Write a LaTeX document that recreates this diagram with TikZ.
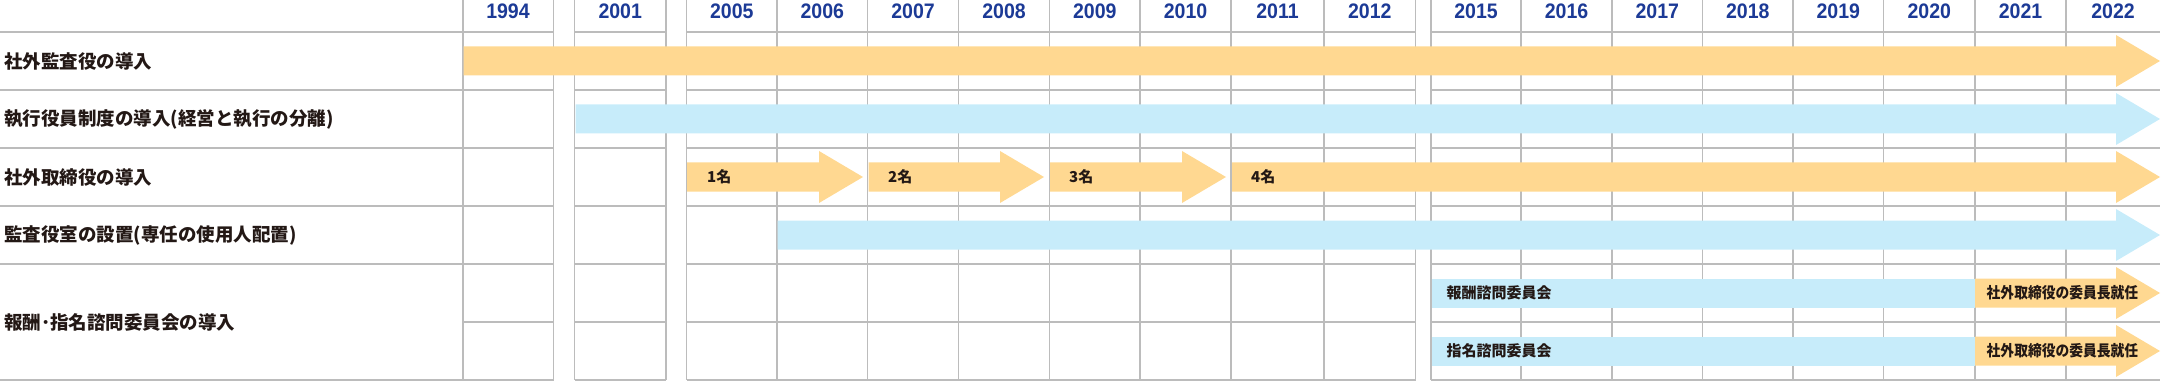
\documentclass[tikz,border=0pt]{standalone}
\usepackage{fontspec}
\newfontfamily\jpfont{Noto Sans CJK JP}
\newfontfamily\jpcond{Noto Sans CJK JP}[FakeStretch=0.9]
\newfontfamily\yearfont{Liberation Sans}[FakeStretch=0.93]
\definecolor{barorange}{RGB}{255,216,145}
\definecolor{barblue}{RGB}{199,236,250}
\definecolor{gridgray}{RGB}{188,188,188}
\definecolor{yearblue}{RGB}{28,58,150}
\definecolor{txt}{RGB}{35,24,21}
\newcommand{\tlarrow}[4]{%
  \fill[#1] (#2,#4-14.5) -- (#3-44,#4-14.5) -- (#3-44,#4-26) -- (#3,#4)
    -- (#3-44,#4+26) -- (#3-44,#4+14.5) -- (#2,#4+14.5) -- cycle;}
\tikzset{
  gridline/.style={draw=gridgray,line width=1.6pt},
  yearlabel/.style={font=\yearfont\bfseries\fontsize{21}{23}\selectfont,text=yearblue,inner sep=0pt,anchor=base},
  rowlabel/.style={font=\jpfont\bfseries\fontsize{18.5}{21}\selectfont,text=txt,inner sep=0pt,anchor=west},
  barlabel/.style={font=\jpfont\bfseries\fontsize{15}{17}\selectfont,text=txt,inner sep=0pt,anchor=west},
  condlabel/.style={font=\jpcond\bfseries\fontsize{15.3}{17}\selectfont,text=txt,inner sep=0pt,anchor=west},
}
\begin{document}
\begin{tikzpicture}[x=1pt,y=-1pt]
\useasboundingbox (0,0) rectangle (2164,385);
% horizontal grid lines
\foreach \y in {32,90,148,206,264,380}{
  \draw[gridline] (0,\y) -- (553.5,\y);
  \draw[gridline] (574.5,\y) -- (666,\y);
  \draw[gridline] (686.5,\y) -- (1415.5,\y);
  \draw[gridline] (1431,\y) -- (2160,\y);
}
\draw[gridline] (463,322) -- (553.5,322);
\draw[gridline] (574.5,322) -- (666,322);
\draw[gridline] (686.5,322) -- (1415.5,322);
\draw[gridline] (1431,322) -- (2160,322);
% vertical grid lines
\foreach \x in {463,553.5,574.5,666,686.5,777,867.5,958.5,1049.5,1140,1231,1324,1415.5,1431,1521,1612,1702.5,1793,1883.5,1975,2066}{
  \draw[gridline] (\x,0) -- (\x,380);
}
% years
\node[yearlabel] (y1994) at (508,18.5) {1994};
\node[yearlabel] (y2001) at (620.25,18.5) {2001};
\node[yearlabel] (y2005) at (731.75,18.5) {2005};
\node[yearlabel] (y2006) at (822.25,18.5) {2006};
\node[yearlabel] (y2007) at (913,18.5) {2007};
\node[yearlabel] (y2008) at (1004,18.5) {2008};
\node[yearlabel] (y2009) at (1094.75,18.5) {2009};
\node[yearlabel] (y2010) at (1185.5,18.5) {2010};
\node[yearlabel] (y2011) at (1277.5,18.5) {2011};
\node[yearlabel] (y2012) at (1369.75,18.5) {2012};
\node[yearlabel] (y2015) at (1476,18.5) {2015};
\node[yearlabel] (y2016) at (1566.5,18.5) {2016};
\node[yearlabel] (y2017) at (1657.25,18.5) {2017};
\node[yearlabel] (y2018) at (1747.75,18.5) {2018};
\node[yearlabel] (y2019) at (1838.25,18.5) {2019};
\node[yearlabel] (y2020) at (1929.25,18.5) {2020};
\node[yearlabel] (y2021) at (2020.5,18.5) {2021};
\node[yearlabel] (y2022) at (2113,18.5) {2022};
% row labels
\node[rowlabel] (r1) at (4,61) {社外監査役の導入};
\node[rowlabel] (r2) at (4,119) {執行役員制度の導入(経営と執行の分離)};
\node[rowlabel] (r3) at (4,177) {社外取締役の導入};
\node[rowlabel] (r4) at (4,235) {監査役室の設置(専任の使用人配置)};
\node[rowlabel] (r5) at (4,322) {報酬･指名諮問委員会の導入};
% bars
\tlarrow{barorange}{463.5}{2160}{61}
\tlarrow{barblue}{575.5}{2160}{119}
\tlarrow{barorange}{687}{863}{177}
\tlarrow{barorange}{868.5}{1044}{177}
\tlarrow{barorange}{1050}{1226}{177}
\tlarrow{barorange}{1232}{2160}{177}
\tlarrow{barblue}{777.5}{2160}{235}
\fill[barblue] (1432,278.5) rectangle (1975,307.5);
\tlarrow{barorange}{1975}{2160}{293}
\fill[barblue] (1432,336.5) rectangle (1975,365.5);
\tlarrow{barorange}{1975}{2160}{351}
% bar labels
\node[barlabel] (n1) at (707,177) {1名};
\node[barlabel] (n2) at (888,177) {2名};
\node[barlabel] (n3) at (1069,177) {3名};
\node[barlabel] (n4) at (1251,177) {4名};
\node[barlabel] (hoshu) at (1446.5,293) {報酬諮問委員会};
\node[barlabel] (shimei) at (1446.5,351) {指名諮問委員会};
\node[condlabel] (chair1) at (1986.5,293) {社外取締役の委員長就任};
\node[condlabel] (chair2) at (1986.5,351) {社外取締役の委員長就任};
\end{tikzpicture}
\end{document}
